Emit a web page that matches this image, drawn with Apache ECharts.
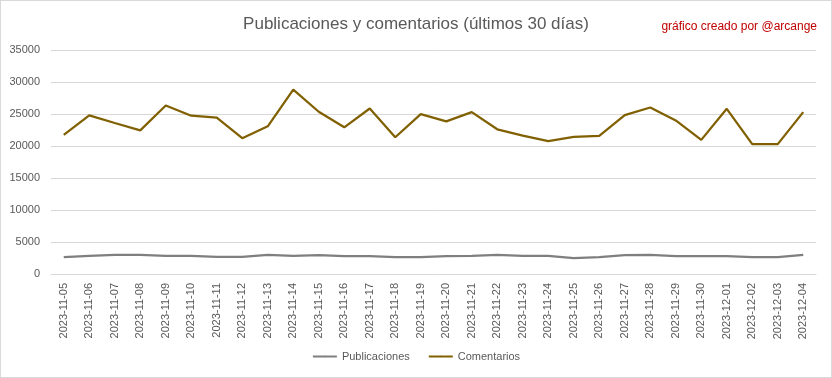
<!DOCTYPE html>
<html>
<head>
<meta charset="utf-8">
<script src="https://cdn.jsdelivr.net/npm/echarts@6/dist/echarts.min.js"></script>
<style>
  html, body { margin: 0; padding: 0; background: #fff; }
  #chart { width: 832px; height: 378px; box-sizing: border-box; border: 1px solid #d9d9d9; }
</style>
</head>
<body>
<div id="chart"></div>
<script>
// dates (x axis)
const dates = [
  '2023-11-05', '2023-11-06', '2023-11-07', '2023-11-08', '2023-11-09', '2023-11-10',
  '2023-11-11', '2023-11-12', '2023-11-13', '2023-11-14', '2023-11-15', '2023-11-16',
  '2023-11-17', '2023-11-18', '2023-11-19', '2023-11-20', '2023-11-21', '2023-11-22',
  '2023-11-23', '2023-11-24', '2023-11-25', '2023-11-26', '2023-11-27', '2023-11-28',
  '2023-11-29', '2023-11-30', '2023-12-01', '2023-12-02', '2023-12-03', '2023-12-04'
]

const publicaciones = [
  2630, 2840, 3000, 3000, 2840, 2840, 2680, 2680, 3000, 2840,
  2940, 2790, 2790, 2630, 2630, 2790, 2840, 3000, 2840, 2840,
  2480, 2630, 2940, 3000, 2790, 2790, 2790, 2630, 2630, 3000
]

const comentarios = [
  21750, 24780, 23590, 22450, 26330, 24730, 24420, 21220, 23080, 28800,
  25350, 22920, 25860, 21370, 24980, 23850, 25300, 22610, 21630, 20750,
  21420, 21570, 24830, 26020, 24000, 20960, 25810, 20290, 20290, 25300
]

const txtColor = '#595959'
const chart = echarts.init(document.getElementById('chart'))

chart.setOption({
  animation: false,
  title: [{
    text: 'Publicaciones y comentarios (últimos 30 días)',
    left: 'center',
    top: 10,
    textStyle: { color: txtColor, fontSize: 17, fontWeight: 'normal', fontFamily: 'Liberation Sans' }
  }, {
    text: 'gráfico creado por @arcange',
    right: 9,
    top: 15,
    textStyle: { color: '#c00000', fontSize: 12, fontWeight: 'normal', fontFamily: 'Liberation Sans' }
  }],
  legend: {
    bottom: 10,
    left: 'center',
    itemWidth: 24,
    itemHeight: 2,
    itemGap: 18,
    textStyle: { color: txtColor, fontSize: 11, fontFamily: 'Liberation Sans' },
    data: ['Publicaciones', 'Comentarios']
  },
  grid: {
    top: 49,
    left: 50,
    right: 15,
    bottom: 103
  },
  xAxis: {
    type: 'category',
    data: dates,
    boundaryGap: true,
    axisLine: { lineStyle: { color: '#d9d9d9' } },
    axisTick: { show: false },
    axisLabel: {
      rotate: 90,
      interval: 0,
      margin: 9,
      color: txtColor,
      fontSize: 11,
      fontFamily: 'Liberation Sans'
    }
  },
  yAxis: {
    type: 'value',
    min: 0,
    max: 35000,
    interval: 5000,
    axisLine: { show: false },
    axisTick: { show: false },
    axisLabel: {
      color: txtColor,
      fontSize: 11,
      margin: 11,
      fontFamily: 'Liberation Sans',
      formatter: v => String(v)
    },
    splitLine: { lineStyle: { color: '#d9d9d9' } }
  },
  series: [{
    name: 'Publicaciones',
    type: 'line',
    data: publicaciones,
    symbol: 'none',
    color: '#7f7f7f',
    lineStyle: { width: 2.25, color: '#7f7f7f' }
  }, {
    name: 'Comentarios',
    type: 'line',
    data: comentarios,
    symbol: 'none',
    color: '#806000',
    lineStyle: { width: 2.25, color: '#806000' }
  }]
})
</script>
</body>
</html>
